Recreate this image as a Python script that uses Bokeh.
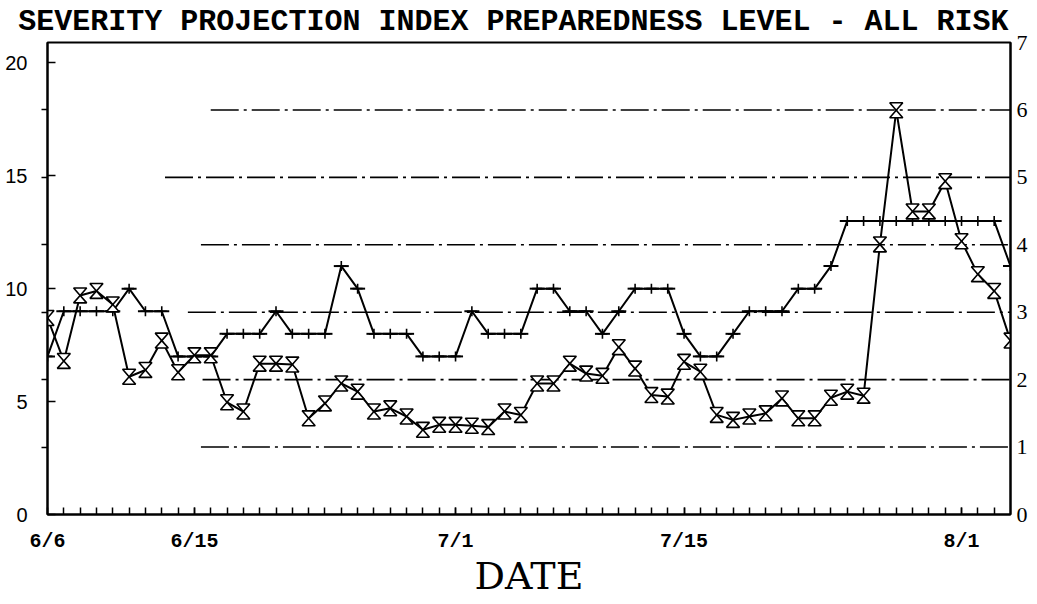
from bokeh.plotting import figure
from bokeh.models import Range1d, LinearAxis, FixedTicker
from bokeh.embed import file_html
from bokeh.resources import INLINE

# ---------------- data ----------------
days = list(range(60))                      # 6/6 ... 8/4
tick_days = [0, 9, 25, 39, 56]
tick_labels = ["6/6", "6/15", "7/1", "7/15", "8/1"]

severity = [8.7, 6.8, 9.7, 9.9, 9.3, 6.1, 6.4, 7.7, 6.3, 7.05,
            7.05, 4.97, 4.56, 6.68, 6.68, 6.64, 4.26, 4.92, 5.8, 5.44,
            4.56, 4.7, 4.34, 3.75, 3.97, 3.97, 3.93, 3.87, 4.56, 4.41,
            5.8, 5.8, 6.68, 6.24, 6.14, 7.41, 6.46, 5.29, 5.22, 6.76,
            6.32, 4.41, 4.19, 4.34, 4.48, 5.14, 4.26, 4.26, 5.17, 5.44,
            5.26, 11.96, 17.9, 13.42, 13.42, 14.76, 12.1, 10.64, 9.9, 7.7]

plus_series = [7, 9, 9, 9, 9, 10, 9, 9, 7, 7,
               7, 8, 8, 8, 9, 8, 8, 8, 11, 10,
               8, 8, 8, 7, 7, 7, 9, 8, 8, 8,
               10, 10, 9, 9, 8, 9, 10, 10, 10, 8,
               7, 7, 8, 9, 9, 9, 10, 10, 11, 13,
               13, 13, 13, 13, 13, 13, 13, 13, 13, 11]

left_ticks = [0, 5, 10, 15, 20]
right_ticks = [0, 1, 2, 3, 4, 5, 6, 7]
levels = [1, 2, 3, 4, 5, 6]
level_start = [9.4, 9.5, 8.6, 9.4, 7.2, 10.0]

TITLE = "SEVERITY PROJECTION INDEX  PREPAREDNESS LEVEL - ALL RISK"
X_LABEL = "DATE"
LEFT_MAX = 20.9
RIGHT_MAX = 7.0
factor = LEFT_MAX / RIGHT_MAX

# ---------------- figure ----------------
p = figure(width=1030, height=602,
           x_range=Range1d(days[0], days[-1]), y_range=Range1d(0, LEFT_MAX),
           output_backend="svg", toolbar_location=None,
           min_border_left=47, min_border_right=20,
           min_border_top=42, min_border_bottom=88,
           title=TITLE)
p.extra_y_ranges = {"right": Range1d(0, RIGHT_MAX)}
p.xgrid.visible = False
p.ygrid.visible = False
p.outline_line_color = "black"
p.outline_line_width = 2
p.background_fill_color = "white"
p.border_fill_color = "white"

p.title.align = "right"
p.title.vertical_align = "top"
p.title.text_font = "Liberation Mono"
p.title.text_font_size = "30px"
p.title.text_font_style = "bold"
p.title.text_color = "black"
p.title.standoff = 4
p.title.offset = -16

# bottom axis
xa = p.xaxis[0]
xa.ticker = FixedTicker(ticks=tick_days, minor_ticks=days[1:-1])
xa.major_label_overrides = {d: l for d, l in zip(tick_days, tick_labels)}
xa.major_tick_in = 7
xa.major_tick_out = 0
xa.minor_tick_in = 7
xa.minor_tick_out = 0
xa.major_tick_line_width = 1.5
xa.minor_tick_line_width = 1.5
xa.axis_line_width = 2
xa.major_label_standoff = 15
xa.major_label_text_font = "Liberation Mono"
xa.major_label_text_font_style = "bold"
xa.major_label_text_font_size = "20px"
xa.major_label_text_color = "black"
xa.axis_label = X_LABEL
xa.axis_label_text_font = "DejaVu Serif"
xa.axis_label_text_font_size = "38px"
xa.axis_label_text_font_style = "normal"
xa.axis_label_text_color = "black"
xa.axis_label_standoff = -2

# left axis
ya = p.yaxis[0]
ya.ticker = FixedTicker(ticks=left_ticks, minor_ticks=[l * factor for l in levels])
ya.major_tick_in = 8
ya.major_tick_out = 0
ya.minor_tick_in = 0
ya.minor_tick_out = 6
ya.major_tick_line_width = 1.5
ya.minor_tick_line_width = 1.5
ya.axis_line_width = 2
ya.major_label_standoff = 14
ya.major_label_text_font = "Liberation Sans"
ya.major_label_text_font_size = "20px"
ya.major_label_text_color = "black"

# right axis
ra = LinearAxis(y_range_name="right", ticker=FixedTicker(ticks=right_ticks))
ra.major_tick_in = 0
ra.major_tick_out = 0
ra.minor_tick_in = 0
ra.minor_tick_out = 0
ra.axis_line_width = 2
ra.major_label_standoff = 6
ra.major_label_text_font = "Liberation Serif"
ra.major_label_text_font_size = "22px"
ra.major_label_text_color = "black"
p.add_layout(ra, "right")

# preparedness level reference lines
p.segment(x0=level_start, y0=levels, x1=[days[-1]] * len(levels), y1=levels,
          y_range_name="right", line_color="black", line_width=1.6,
          line_dash="28 5 3 5")

# + series
p.line(days, plus_series, line_color="black", line_width=2)
p.scatter(days, plus_series, marker="dash", size=15, line_color="black", line_width=2)
p.scatter(days, plus_series, marker="cross", size=10, line_color="black", line_width=1.6)

# hourglass series
p.line(days, severity, line_color="black", line_width=2)
w, h = 0.4, 0.33
hx = [[d - w, d + w, d, d + w, d - w, d] for d in days]
hy = [[v + h, v + h, v, v - h, v - h, v] for v in severity]
p.patches(hx, hy, fill_color="white", line_color="black", line_width=1.6)

open("out.html", "w").write(file_html(p, INLINE))
